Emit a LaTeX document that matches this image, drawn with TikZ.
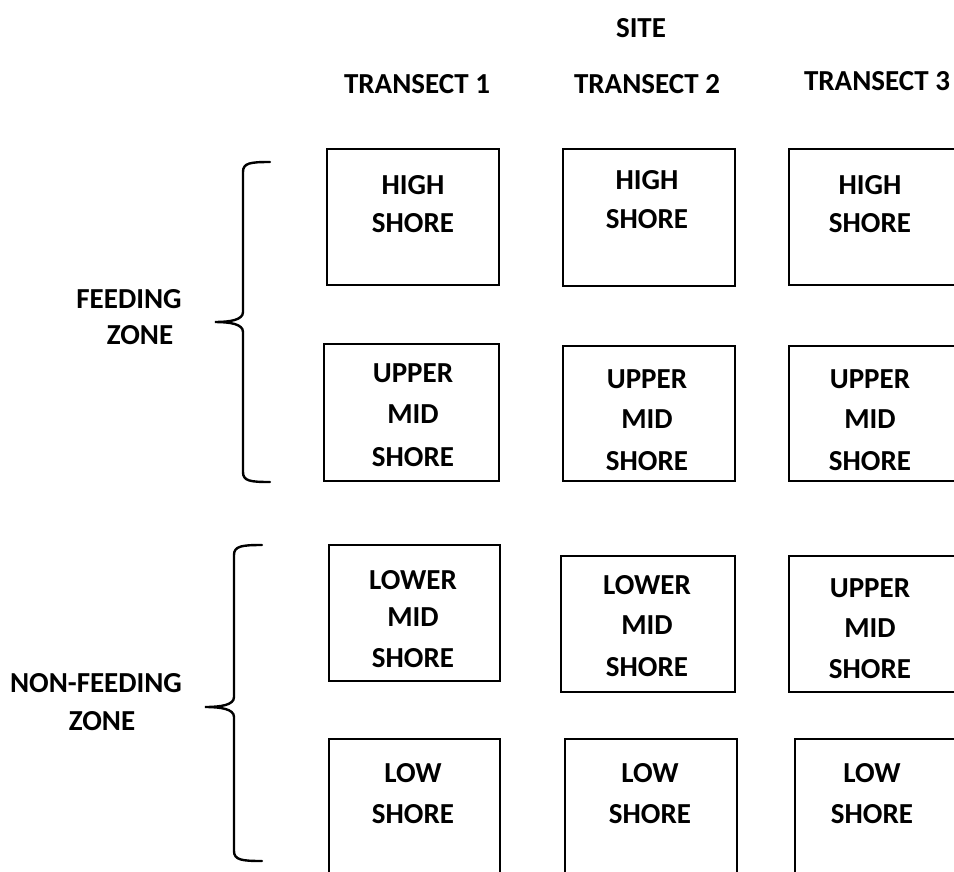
\documentclass[tikz,border=0pt]{standalone}
\usepackage{fontspec}
\setmainfont{Carlito}
\begin{document}
\begin{tikzpicture}[x=1pt,y=-1pt,
  box/.style={draw=black, line width=1.6pt, inner sep=0pt},
  lbl/.style={font=\bfseries\fontsize{29}{34}\selectfont, inner sep=0pt, anchor=center},
  brace/.style={draw=black, line width=2.4pt, line cap=round}]
\useasboundingbox (0,0) rectangle (954,871);
\clip (0,0) rectangle (954,871);
% headers
\node[lbl] (site) at (641,28) {SITE};
\node[lbl] (t1) at (417,84) {TRANSECT 1};
\node[lbl] (t2) at (647,84) {TRANSECT 2};
\node[lbl] (t3) at (877,81) {TRANSECT 3};
% zone labels
\node[lbl] (fz1) at (129,299) {FEEDING};
\node[lbl] (fz2) at (140,335) {ZONE};
\node[lbl] (nf1) at (96,683) {NON-FEEDING};
\node[lbl] (nf2) at (102,721) {ZONE};
% braces
\path[brace] (270,162) .. controls (250,162) and (243,163) .. (243,172) -- (243,312)
  .. controls (243,320) and (230,322) .. (215,322)
  .. controls (230,322) and (243,324) .. (243,332) -- (243,472)
  .. controls (243,481) and (250,482) .. (270,482);
\path[brace] (262,545) .. controls (242,545) and (234,546) .. (234,555) -- (234,697)
  .. controls (234,705) and (221,707) .. (205,707)
  .. controls (221,707) and (234,709) .. (234,717) -- (234,851)
  .. controls (234,860) and (242,861) .. (262,861);
% row 1
\draw[box] (327,149) rectangle (499,285);
\draw[box] (563,149) rectangle (735,286);
\draw[box] (789,149) rectangle (980,285);
\node[lbl] at (413,185) {HIGH};  \node[lbl] at (413,223) {SHORE};
\node[lbl] at (647,180) {HIGH};  \node[lbl] at (647,219) {SHORE};
\node[lbl] at (870,185) {HIGH};  \node[lbl] at (870,223) {SHORE};
% row 2
\draw[box] (324,344) rectangle (499,481);
\draw[box] (563,346) rectangle (735,481);
\draw[box] (789,346) rectangle (980,481);
\node[lbl] at (413,373) {UPPER}; \node[lbl] at (413,414) {MID}; \node[lbl] at (413,457) {SHORE};
\node[lbl] at (647,379) {UPPER}; \node[lbl] at (647,419) {MID}; \node[lbl] at (647,461) {SHORE};
\node[lbl] at (870,379) {UPPER}; \node[lbl] at (870,419) {MID}; \node[lbl] at (870,461) {SHORE};
% row 3
\draw[box] (329,545) rectangle (500,681);
\draw[box] (561,556) rectangle (735,692);
\draw[box] (789,556) rectangle (980,692);
\node[lbl] at (413,580) {LOWER}; \node[lbl] at (413,617) {MID}; \node[lbl] at (413,658) {SHORE};
\node[lbl] at (647,585) {LOWER}; \node[lbl] at (647,625) {MID}; \node[lbl] at (647,667) {SHORE};
\node[lbl] at (870,588) {UPPER}; \node[lbl] at (870,628) {MID}; \node[lbl] at (870,669) {SHORE};
% row 4
\draw[box] (329,739) rectangle (500,900);
\draw[box] (565,739) rectangle (737,900);
\draw[box] (795,739) rectangle (980,900);
\node[lbl] at (413,773) {LOW}; \node[lbl] at (413,814) {SHORE};
\node[lbl] at (650,773) {LOW}; \node[lbl] at (650,814) {SHORE};
\node[lbl] at (872,773) {LOW}; \node[lbl] at (872,814) {SHORE};
\end{tikzpicture}
\end{document}
